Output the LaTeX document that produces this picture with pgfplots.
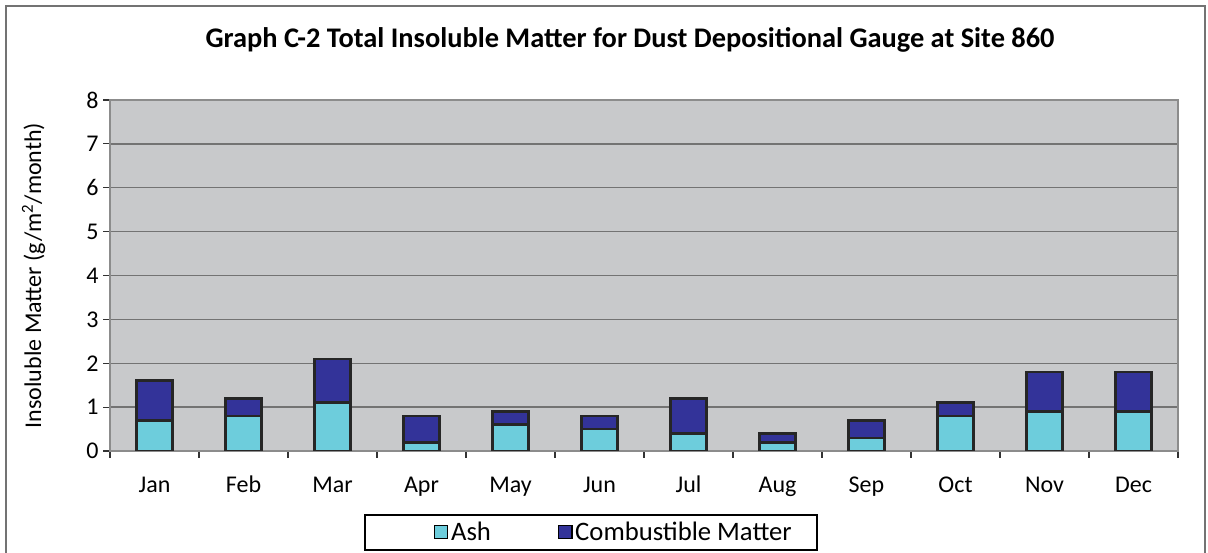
\documentclass[border=0pt]{standalone}
\usepackage{fontspec}
\setmainfont{Carlito}
\usepackage{pgfplots}
\pgfplotsset{compat=1.18}
\definecolor{ashc}{HTML}{6DCDDC}
\definecolor{combc}{HTML}{333399}
\definecolor{plotbg}{HTML}{C8C9CB}
\begin{document}
\begin{tikzpicture}
\useasboundingbox (-82.5pt,-76.5pt) rectangle (823.5pt,338.25pt);
\draw[black!55, line width=1.2pt] (-78pt,-90pt) -- (-78pt,333.75pt) -- (821.25pt,333.75pt) -- (821.25pt,-90pt);
\draw[black, line width=0.8pt] (191.25pt,-48pt) rectangle (530.25pt,-74.25pt);
\begin{axis}[
  at={(0pt,0pt)}, anchor=south west,
  scale only axis, width=801pt, height=263.25pt,
  ybar stacked, bar width=27pt,
  xmin=-0.5, xmax=11.5, ymin=0, ymax=8,
  ytick={0,1,2,3,4,5,6,7,8},
  xtick={-0.5,0.5,1.5,2.5,3.5,4.5,5.5,6.5,7.5,8.5,9.5,10.5,11.5},
  x tick label as interval,
  xticklabels={Jan,Feb,Mar,Apr,May,Jun,Jul,Aug,Sep,Oct,Nov,Dec},
  xtick pos=bottom, ytick pos=left,
  tick align=outside, major tick length=5pt,
  tick style={black!80, line width=0.8pt},
  ymajorgrids, grid style={black!55, line width=1pt},
  axis background/.style={fill=plotbg},
  axis line style={black!45, line width=1.5pt},
  /pgf/number format/assume math mode=true,
  tick label style={font=\fontsize{18}{21}\selectfont},
  xticklabel style={yshift=-10pt, text height=12.5pt, text depth=3pt},
  ylabel={Insoluble Matter (g/m\textsuperscript{2}/month)},
  ylabel style={font=\fontsize{18}{21}\selectfont, at={(axis description cs:-0.0562,0.5)}, anchor=south},
  legend columns=2,
  legend style={at={(0.4719,-0.2308)}, anchor=center, draw=none, fill=none,
    font=\fontsize{20}{23}\selectfont, inner xsep=0pt, inner ysep=2pt,
    /tikz/every even column/.append style={column sep=48pt}},
  legend image code/.code={\draw[#1, draw=black, line width=1.2pt] (0pt,-5pt) rectangle (10pt,5pt);},
  every axis plot/.append style={draw=black!85, line width=2pt},
]
\addplot[fill=ashc] coordinates {(0,0.7) (1,0.8) (2,1.1) (3,0.2) (4,0.6) (5,0.5) (6,0.4) (7,0.2) (8,0.3) (9,0.8) (10,0.9) (11,0.9)};
\addplot[fill=combc] coordinates {(0,0.9) (1,0.4) (2,1.0) (3,0.6) (4,0.3) (5,0.3) (6,0.8) (7,0.2) (8,0.4) (9,0.3) (10,0.9) (11,0.9)};
\legend{Ash,Combustible Matter}
\end{axis}
\node[font=\fontsize{21.3}{25}\selectfont\bfseries, anchor=center] at (390pt,308.25pt) {Graph C-2 Total Insoluble Matter for Dust Depositional Gauge at Site 860};
\end{tikzpicture}
\end{document}
